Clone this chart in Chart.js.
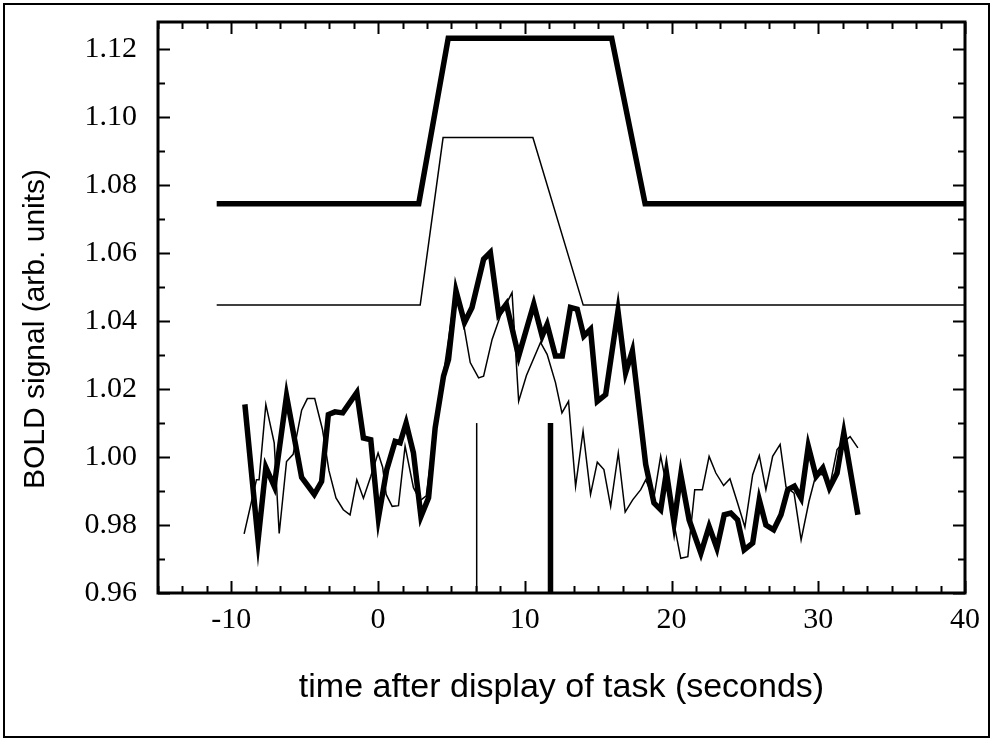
<!DOCTYPE html>
<html>
<head>
<meta charset="utf-8">
<script src="https://cdn.jsdelivr.net/npm/chart.js@4.4.0/dist/chart.umd.min.js"></script>
<style>
  html, body { margin: 0; padding: 0; background: #fff; }
  #wrap { width: 993px; height: 740px; }
</style>
</head>
<body>
<div id="wrap"><canvas id="c" width="993" height="740"></canvas></div>
<script>
// ---------- data ----------
// x axis: time after display of task (seconds); y axis: BOLD signal (arb. units)
const xTickLabels = [-10, 0, 10, 20, 30, 40];
const yTickLabels = [0.96, 0.98, 1.00, 1.02, 1.04, 1.06, 1.08, 1.10, 1.12];
const xAxisTitle = 'time after display of task (seconds)';
const yAxisTitle = 'BOLD signal (arb. units)';

// thick block model (trapezoid)
const thickModelTimes  = [-11, 2.77, 4.78, 15.92, 18.2, 40];
const thickModelSignal = [1.0745, 1.0745, 1.1232, 1.1232, 1.0745, 1.0745];

// thin block model (trapezoid)
const thinModelTimes  = [-11, 2.87, 4.43, 10.55, 13.98, 40];
const thinModelSignal = [1.0447, 1.0447, 1.0940, 1.0940, 1.0447, 1.0447];

// thick measured time course
const thickTimes = [-9.08, -8.18, -7.65, -7.08, -6.24, -5.21, -4.35, -3.85, -3.39, -2.94,
  -2.41, -1.45, -1.00, -0.50, 0.02, 0.59, 1.16, 1.50, 1.91, 2.41,
  2.92, 3.44, 3.89, 4.46, 4.80, 5.31, 5.89, 6.40, 7.19, 7.65,
  8.22, 8.74, 9.58, 10.61, 11.18, 11.52, 12.09, 12.55, 13.11, 13.57,
  14.02, 14.48, 14.94, 15.51, 16.35, 16.87, 17.33, 18.24, 18.80, 19.26,
  19.65, 20.17, 20.63, 21.20, 22.00, 22.56, 23.09, 23.59, 24.04, 24.50,
  24.95, 25.53, 25.98, 26.43, 26.96, 27.46, 27.92, 28.37, 28.83, 29.32,
  29.85, 30.31, 30.76, 31.28, 31.74, 32.70];
const thickSignal = [1.0155, 0.9755, 0.9970, 0.9914, 1.0180, 0.9940, 0.9890, 0.9928, 1.0125, 1.0133,
  1.0130, 1.0190, 1.0056, 1.0051, 0.9820, 0.9963, 1.0046, 1.0042, 1.0100, 1.0012,
  0.9825, 0.9880, 1.0086, 1.0238, 1.0287, 1.0489, 1.0396, 1.0440, 1.0582, 1.0602,
  1.0420, 1.0450, 1.0297, 1.0450, 1.0356, 1.0390, 1.0297, 1.0297, 1.0440, 1.0435,
  1.0356, 1.0376, 1.0164, 1.0184, 1.0430, 1.0248, 1.0312, 0.9978, 0.9865, 0.9845,
  0.9955, 0.9806, 0.9948, 0.9815, 0.9717, 0.9796, 0.9732, 0.9830, 0.9835, 0.9815,
  0.9727, 0.9747, 0.9874, 0.9800, 0.9786, 0.9830, 0.9904, 0.9914, 0.9879, 1.0032,
  0.9943, 0.9968, 0.9909, 0.9953, 1.0071, 0.9830];

// thin measured time course
const thinTimes = [-9.13, -8.29, -8.11, -7.65, -7.08, -6.74, -6.24, -5.79, -5.21, -4.82,
  -4.32, -3.79, -3.35, -2.87, -2.37, -1.91, -1.45, -1.00, -0.50, 0.00,
  0.31, 0.55, 0.96, 1.39, 1.84, 2.41, 2.87, 3.28, 3.89, 4.46,
  5.26, 5.83, 6.28, 6.85, 7.19, 7.77, 8.33, 8.79, 9.13, 9.58,
  10.11, 11.07, 11.52, 12.09, 12.53, 12.98, 13.46, 13.97, 14.48, 14.94,
  15.39, 15.85, 16.37, 16.84, 17.35, 17.90, 18.24, 18.78, 19.26, 19.72,
  20.15, 20.63, 21.11, 21.58, 22.10, 22.56, 23.02, 23.55, 23.98, 24.50,
  25.00, 25.53, 25.98, 26.43, 26.89, 27.40, 27.80, 28.35, 28.83, 29.37,
  29.85, 30.31, 30.76, 31.28, 31.78, 32.17, 32.70];
const thinSignal = [0.9774, 0.9933, 0.9933, 1.0155, 1.0042, 0.9775, 0.9987, 1.0008, 1.0138, 1.0172,
  1.0172, 1.0081, 0.9960, 0.9880, 0.9845, 0.9830, 0.9933, 0.9879, 0.9943, 1.0012,
  0.9970, 0.9890, 0.9855, 0.9857, 1.0032, 0.9910, 0.9872, 0.9886, 1.0090, 1.0245,
  1.0486, 1.0390, 1.0278, 1.0233, 1.0238, 1.0346, 1.0415, 1.0455, 1.0484, 1.0164,
  1.0240, 1.0337, 1.0302, 1.0219, 1.0130, 1.0164, 0.9914, 1.0076, 0.9890, 0.9985,
  0.9963, 0.9855, 1.0012, 0.9838, 0.9874, 0.9904, 0.9933, 0.9875, 1.0003, 0.9902,
  0.9808, 0.9702, 0.9707, 0.9904, 0.9904, 1.0002, 0.9953, 0.9916, 0.9936, 0.9865,
  0.9794, 0.9948, 1.0004, 0.9904, 1.0002, 1.0037, 0.9912, 0.9894, 0.9756, 0.9870,
  0.9950, 0.9948, 0.9909, 1.0022, 1.0046, 1.0060, 1.0027];

// vertical markers
const thinMarkerTime = 6.72;
const thickMarkerTime = 11.75;
const markerSignal = [0.96, 1.01];

// ---------- build ----------
const pts = (xs, ys) => xs.map((x, i) => ({ x: x, y: ys[i] }));
const markerPts = t => markerSignal.map(v => ({ x: t, y: v }));

const THICK = 5.5, THIN = 1.5;
const common = { borderColor: '#000', backgroundColor: '#000', pointRadius: 0, tension: 0, fill: false, borderJoinStyle: 'miter', borderCapStyle: 'butt' };

const frameAndTicks = {
  id: 'frameAndTicks',
  afterDraw(chart) {
    const ctx = chart.ctx;
    const a = chart.chartArea;
    const xs = chart.scales.x, ys = chart.scales.y;
    ctx.save();
    ctx.strokeStyle = '#000';
    // outer figure frame
    ctx.lineWidth = 2;
    ctx.strokeRect(4, 4, 985, 733);
    // plot box
    ctx.lineWidth = 3;
    ctx.strokeRect(a.left, a.top, a.right - a.left, a.bottom - a.top);
    // x ticks (inward, bottom and top)
    ctx.lineWidth = 2;
    const xMinorStep = 10 / 6;
    for (let k = 0; ; k++) {
      const v = -15 + k * xMinorStep;
      if (v > 40.001) break;
      const r = (v + 10) / 10;
      const isMajor = Math.abs(r - Math.round(r)) < 1e-6;
      const len = isMajor ? 12 : 7;
      const px = Math.round(xs.getPixelForValue(v)) + 0.5;
      ctx.beginPath();
      ctx.moveTo(px, a.bottom); ctx.lineTo(px, a.bottom - len);
      ctx.moveTo(px, a.top); ctx.lineTo(px, a.top + len);
      ctx.stroke();
    }
    // y ticks (inward, left and right)
    for (let k = 0; k <= 16; k++) {
      const v = 0.96 + k * 0.01;
      const len = (k % 2 === 0) ? 12 : 7;
      const py = Math.round(ys.getPixelForValue(v)) + 0.5;
      ctx.beginPath();
      ctx.moveTo(a.left, py); ctx.lineTo(a.left + len, py);
      ctx.moveTo(a.right, py); ctx.lineTo(a.right - len, py);
      ctx.stroke();
    }
    // y axis title
    ctx.fillStyle = '#000';
    ctx.font = '30px "Liberation Sans"';
    ctx.textAlign = 'center';
    ctx.textBaseline = 'middle';
    ctx.translate(36, 329);
    ctx.rotate(-Math.PI / 2);
    ctx.fillText(yAxisTitle, 0, 0);
    ctx.restore();
  }
};

new Chart(document.getElementById('c'), {
  type: 'line',
  data: {
    datasets: [
      Object.assign({ label: 'thick model', data: pts(thickModelTimes, thickModelSignal), borderWidth: THICK }, common),
      Object.assign({ label: 'thin model', data: pts(thinModelTimes, thinModelSignal), borderWidth: THIN }, common),
      Object.assign({ label: 'thin signal', data: pts(thinTimes, thinSignal), borderWidth: THIN }, common),
      Object.assign({ label: 'thick signal', data: pts(thickTimes, thickSignal), borderWidth: THICK }, common),
      Object.assign({ label: 'thin marker', data: markerPts(thinMarkerTime), borderWidth: THIN }, common),
      Object.assign({ label: 'thick marker', data: markerPts(thickMarkerTime), borderWidth: THICK }, common)
    ]
  },
  options: {
    responsive: false,
    animation: false,
    devicePixelRatio: 1,
    layout: { padding: { top: 22, right: 28, left: 0, bottom: 0 } },
    plugins: { legend: { display: false }, tooltip: { enabled: false } },
    scales: {
      x: {
        type: 'linear', min: -15, max: 40,
        afterFit: s => { s.height = 147; s.paddingLeft = 0; s.paddingRight = 0; },
        afterBuildTicks: s => { s.ticks = xTickLabels.map(v => ({ value: v })); },
        grid: { display: false, drawTicks: false },
        border: { display: false },
        ticks: { padding: 9, color: '#000', font: { family: 'Liberation Serif', size: 30 }, maxRotation: 0, autoSkip: false, callback: v => String(v) },
        title: { display: true, text: xAxisTitle, color: '#000', font: { family: 'Liberation Sans', size: 34 }, padding: { top: 0, bottom: 32 } }
      },
      y: {
        type: 'linear', min: 0.96, max: 1.128,
        afterFit: s => { s.width = 158; s.paddingTop = 0; s.paddingBottom = 0; },
        afterBuildTicks: s => { s.ticks = yTickLabels.map(v => ({ value: v })); },
        grid: { display: false, drawTicks: false },
        border: { display: false },
        ticks: { padding: 21, color: '#000', font: { family: 'Liberation Serif', size: 30 }, autoSkip: false, callback: v => Number(v).toFixed(2) },
        title: { display: false, text: yAxisTitle }
      }
    }
  },
  plugins: [frameAndTicks]
});
</script>
</body>
</html>
